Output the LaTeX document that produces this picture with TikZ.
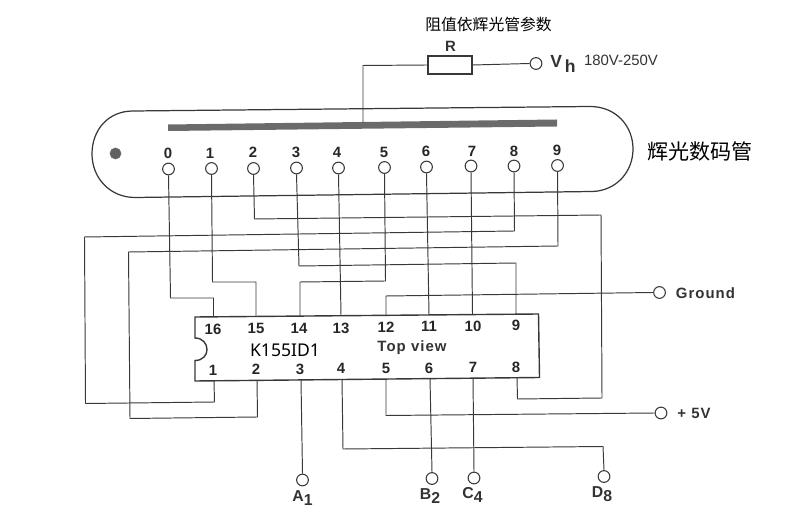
\documentclass[tikz,border=0pt]{standalone}
\usepackage{fontspec}
\setmainfont{Liberation Sans}
\newfontfamily\cjk{Noto Sans CJK SC}
\newfontfamily\chipfont{Noto Sans}
\newfontfamily\widefont[LetterSpace=7]{Liberation Sans Bold}
\definecolor{wire}{gray}{0.22}
\definecolor{barfill}{gray}{0.42}
\tikzset{
  wirepath/.style={draw=wire,line width=0.55pt},
  pad/.style={circle,draw=wire,fill=white,line width=0.6pt,minimum size=0.235cm,inner sep=0pt},
  tubenum/.style={inner sep=0pt,text=black!85,font=\fontsize{8.5}{9}\selectfont\bfseries},
  pinnum/.style={inner sep=0pt,text=black!85,font=\fontsize{8.5}{10}\selectfont\bfseries},
  lettertext/.style={inner sep=0pt,text=black!80,font=\fontsize{8.5}{10}\selectfont\bfseries},
  spacedtext/.style={inner sep=0pt,text=black!80,font=\widefont\fontsize{8.5}{10}\selectfont},
  padname/.style={inner sep=0pt,text=black!80,font=\fontsize{9}{11}\selectfont\bfseries},
}
\begin{document}
\begin{tikzpicture}[x=0.02cm,y=-0.02cm]
\useasboundingbox (0,0) rectangle (800,519);

% tube
\draw[wirepath,line width=0.7pt] (133,111) -- (590,106.5) .. controls (616,106.5) and (633,126) .. (633,149) .. controls (633,172) and (616,191) .. (592,191.5) -- (135,197.5) .. controls (110,197.5) and (92,178) .. (92,154) .. controls (92,130) and (108,111) .. (133,111) -- cycle;
\fill[barfill] (168,124.5) -- (557,119.5) -- (557,126.5) -- (168,131) -- cycle;
\filldraw[draw=barfill,fill=barfill!90!black] (115.5,153.5) circle (5.5);
\coordinate (barmid) at (363,123);
\node[inner sep=0pt,font=\cjk\fontsize{12}{14}\selectfont] (tubename) at (700,151) {辉光数码管};

% tube pins
\node[pad] (t0) at (168.5,169) {};
\node[pad] (t1) at (211.5,168.5) {};
\node[pad] (t2) at (253.5,168.5) {};
\node[pad] (t3) at (296.5,168) {};
\node[pad] (t4) at (338.5,168) {};
\node[pad] (t5) at (384.5,167.5) {};
\node[pad] (t6) at (426.5,167) {};
\node[pad] (t7) at (471,166) {};
\node[pad] (t8) at (514,166) {};
\node[pad] (t9) at (557.5,165.5) {};
\node[tubenum] (n0) at (168,153.5) {0};
\node[tubenum] (n1) at (210,153) {1};
\node[tubenum] (n2) at (253,152.5) {2};
\node[tubenum] (n3) at (296,152.5) {3};
\node[tubenum] (n4) at (337,152.5) {4};
\node[tubenum] (n5) at (384,152) {5};
\node[tubenum] (n6) at (426,151.5) {6};
\node[tubenum] (n7) at (472,151.5) {7};
\node[tubenum] (n8) at (514,151) {8};
\node[tubenum] (n9) at (557,150.5) {9};

% resistor
\node[draw=wire,line width=0.6pt,minimum width=0.88cm,minimum height=0.36cm,inner sep=0pt] (res) at (450,65) {};
\node[lettertext] (rname) at (450.5,46) {R};
\node[pad] (vh) at (536,63.5) {};
\node[lettertext,font=\fontsize{10}{12}\selectfont\bfseries] (vhname) at (563,64) {V\raisebox{-0.45ex}{\,h}};
\node[inner sep=0pt,text=black!80,font=\fontsize{8.5}{10}\selectfont] (vhrange) at (621,60.5) {180V-250V};
\node[inner sep=0pt,font=\cjk\fontsize{9}{11}\selectfont] (resnote) at (488.5,24.5) {阻值依辉光管参数};
\draw[wirepath] (res.west) -- (363,65.5) -- (barmid);
\draw[wirepath] (res.east) -- (vh.west);

% chip
\draw[wirepath,line width=0.8pt] (195,317) -- (538.5,314) -- (539.5,377.5) -- (195,381) -- (195,360.5) .. controls (203,360.5) and (207,355) .. (207,349.5) .. controls (207,344) and (203,338) .. (195,338) -- cycle;
\coordinate (c16) at (213.5,316.5);
\coordinate (c15) at (256,316);
\coordinate (c14) at (300,316);
\coordinate (c13) at (341,315.5);
\coordinate (c12) at (386,315);
\coordinate (c11) at (429,315);
\coordinate (c10) at (472.5,314.5);
\coordinate (c9) at (516,314);
\coordinate (c1) at (214,381);
\coordinate (c2) at (257,380.5);
\coordinate (c3) at (301,380);
\coordinate (c4) at (342,379.5);
\coordinate (c5) at (386,379);
\coordinate (c6) at (430,378.5);
\coordinate (c7) at (473,378);
\coordinate (c8) at (517,377.5);
\node[pinnum] (l16) at (213,329) {16};
\node[pinnum] (l15) at (256,328) {15};
\node[pinnum] (l14) at (299,328) {14};
\node[pinnum] (l13) at (341,328) {13};
\node[pinnum] (l12) at (386,327) {12};
\node[pinnum] (l11) at (429,326.5) {11};
\node[pinnum] (l10) at (473,326) {10};
\node[pinnum] (l9) at (516,325.5) {9};
\node[pinnum] (l1) at (213,370) {1};
\node[pinnum] (l2) at (256,369.5) {2};
\node[pinnum] (l3) at (300,369.5) {3};
\node[pinnum] (l4) at (341,368) {4};
\node[pinnum] (l5) at (386,368) {5};
\node[pinnum] (l6) at (429,368) {6};
\node[pinnum] (l7) at (473,367.5) {7};
\node[pinnum] (l8) at (516,367) {8};
\node[inner sep=0pt,font=\chipfont\fontsize{10}{12}\selectfont] (chipname) at (285,350) {K155ID1};
\node[spacedtext] (topview) at (412,348) {Top view};

% tube to chip
\draw[wirepath] (t0.south) -- (170.5,298) -- (213.5,298) -- (c16);
\draw[wirepath] (t1.south) -- (212.5,282) -- (256,282) -- (c15);
\draw[wirepath] (t2.south) -- (254.5,219) -- (601,215) -- (602,398) -- (517.5,399) -- (c8);
\draw[wirepath] (t3.south) -- (299,266) -- (516,263) -- (c9);
\draw[wirepath] (t4.south) -- (c13);
\draw[wirepath] (t5.south) -- (385.5,281) -- (300,282) -- (c14);
\draw[wirepath] (t6.south) -- (c11);
\draw[wirepath] (t7.south) -- (c10);
\draw[wirepath] (t8.south) -- (514.5,231) -- (84.5,237) -- (85.5,403.5) -- (214.5,402) -- (c1);
\draw[wirepath] (t9.south) -- (558,246) -- (128.5,252) -- (130,418.5) -- (257.5,417) -- (c2);

% outside connections
\node[pad] (gnd) at (659.5,292.5) {};
\node[pad] (vcc) at (661,413) {};
\node[pad] (a1) at (302.5,480) {};
\node[pad] (b2) at (432,478.5) {};
\node[pad] (c4pad) at (474,478) {};
\node[pad] (d8) at (604,476.5) {};
\node[spacedtext,anchor=west] (gndname) at (675.5,293) {Ground};
\node[spacedtext,anchor=west] (vccname) at (677,413) {+ 5V};
\node[padname] (a1name) at (302.5,498) {A\raisebox{-0.5ex}{1}};
\node[padname] (b2name) at (430,496) {B\raisebox{-0.5ex}{2}};
\node[padname] (c4name) at (472.5,495) {C\raisebox{-0.5ex}{4}};
\node[padname] (d8name) at (602,494.5) {D\raisebox{-0.5ex}{8}};
\draw[wirepath] (c12) -- (386,296) -- (gnd.west);
\draw[wirepath] (c5) -- (386,415.5) -- (vcc.west);
\draw[wirepath] (c3) -- (a1.north);
\draw[wirepath] (c6) -- (b2.north);
\draw[wirepath] (c7) -- (c4pad.north);
\draw[wirepath] (c4) -- (343,449) -- (603,446.5) -- (d8.north);

\end{tikzpicture}
\end{document}
